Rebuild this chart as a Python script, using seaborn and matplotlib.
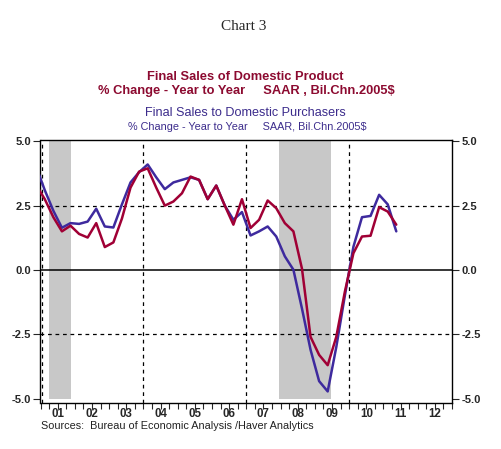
import numpy as np
import pandas as pd
import seaborn as sns
import matplotlib
matplotlib.use('Agg')
import matplotlib.pyplot as plt

## quarterly data, 2000Q4 .. 2011Q2 (% change, year to year)
quarters = pd.period_range('2000Q4', '2011Q2', freq='Q')

final_sales_product = [3.3,
                       2.75, 2.05, 1.5, 1.72,
                       1.4, 1.26, 1.82, 0.89,
                       1.07, 2.0, 3.2, 3.82,
                       3.95, 3.2, 2.5, 2.66,
                       2.98, 3.63, 3.5, 2.75,
                       3.28, 2.5, 1.76, 2.75,
                       1.63, 1.95, 2.7, 2.4,
                       1.82, 1.5, 0.05, -2.6,
                       -3.3, -3.7, -2.6, -0.85,
                       0.65, 1.3, 1.33, 2.44,
                       2.27, 1.76]

final_sales_purchasers = [4.0,
                          3.1, 2.3, 1.64, 1.82,
                          1.79, 1.88, 2.38, 1.69,
                          1.65, 2.55, 3.4, 3.8,
                          4.1, 3.6, 3.14, 3.4,
                          3.5, 3.6, 3.5, 2.75,
                          3.28, 2.5, 1.95, 2.25,
                          1.34, 1.5, 1.69, 1.3,
                          0.53, 0.01, -1.5, -3.1,
                          -4.32, -4.72, -3.0, -1.0,
                          0.9, 2.05, 2.1, 2.92,
                          2.55, 1.5]

recessions = [(2001.25, 2001.875), (2007.96, 2009.46)]
year_labels = ['01', '02', '03', '04', '05', '06', '07', '08', '09', '10', '11', '12']

red = '#A00035'
purple = '#3E2A9E'

# mid-quarter decimal year
t = quarters.year + (quarters.quarter - 1) / 4 + 0.125
df = pd.DataFrame({'t': np.concatenate([t, t]),
                   'value': final_sales_purchasers + final_sales_product,
                   'series': ['purch'] * len(t) + ['prod'] * len(t)})

sns.set_style('white')
plt.rcParams['font.family'] = ['Liberation Sans', 'DejaVu Sans']

fig = plt.figure(figsize=(5.02, 4.49), dpi=100)
ax = fig.add_axes([40.5 / 502, 1 - 402.5 / 449, 411.5 / 502, 262.5 / 449])

for a, b in recessions:
    ax.axvspan(a, b, ymin=0.012, ymax=1, color='#C8C8C8', lw=0, zorder=0)

for yv in [2.5, -2.5]:
    ax.axhline(yv, color='black', lw=0.9, ls=(0, (3, 3)), zorder=1)
ax.axhline(0, color='black', lw=1.1, zorder=1)
for xv in [2001.05, 2004, 2007, 2010]:
    ax.axvline(xv, color='black', lw=0.9, ls=(0, (3, 3)), zorder=1)

sns.lineplot(data=df, x='t', y='value', hue='series', palette={'purch': purple, 'prod': red},
             hue_order=['purch', 'prod'], lw=1.8, legend=False, ax=ax, zorder=3)

ax.set_xlim(2001, 2013)
ax.set_ylim(-5.15, 5.05)
ax.set_xlabel('')
ax.set_ylabel('')

# year labels as major (no tick), quarter ticks as minor
ax.xaxis.remove_overlapping_locs = False
ax.set_xticks(np.arange(2001.5, 2013, 1), year_labels)
ax.set_xticks(np.arange(2001, 2013.01, 0.25), minor=True)
ax.tick_params(axis='x', which='major', length=0, pad=4, labelsize=8.3)
ax.tick_params(axis='x', which='minor', direction='out', length=4, width=0.8, bottom=True)

ax.set_yticks([5.0, 2.5, 0.0, -2.5, -5.0])
ax.set_yticklabels(['5.0', '2.5', '0.0', '-2.5', '-5.0'])
ax.tick_params(axis='y', direction='out', length=5, width=0.8, left=True, right=True,
               labelleft=True, labelright=True, labelsize=8, pad=2)
for lab in ax.get_yticklabels() + ax.get_xticklabels():
    lab.set_fontweight('bold')

for s in ax.spines.values():
    s.set_visible(True)
    s.set_color('black')
    s.set_linewidth(1.0)

fig.text(244 / 502, 1 - 27 / 449, 'Chart 3', ha='center', va='center', fontsize=11,
         family=['Liberation Serif', 'DejaVu Serif'])
fig.text(245 / 502, 1 - 77 / 449, 'Final Sales of Domestic Product', ha='center', va='center',
         fontsize=9.3, fontweight='bold', color='#8C0A30')
fig.text(246 / 502, 1 - 91 / 449, '% Change - Year to Year     SAAR , Bil.Chn.2005$', ha='center',
         va='center', fontsize=9.3, fontweight='bold', color='#8C0A30')
fig.text(245 / 502, 1 - 113 / 449, 'Final Sales to Domestic Purchasers', ha='center', va='center',
         fontsize=9.1, color='#3C2C8C')
fig.text(247 / 502, 1 - 127 / 449, '% Change - Year to Year     SAAR, Bil.Chn.2005$', ha='center',
         va='center', fontsize=7.8, color='#3C2C8C')
fig.text(41 / 502, 1 - 426 / 449, 'Sources:  Bureau of Economic Analysis /Haver Analytics',
         ha='left', va='center', fontsize=7.8, color='#222222')

fig.savefig('out.png', dpi=100)
